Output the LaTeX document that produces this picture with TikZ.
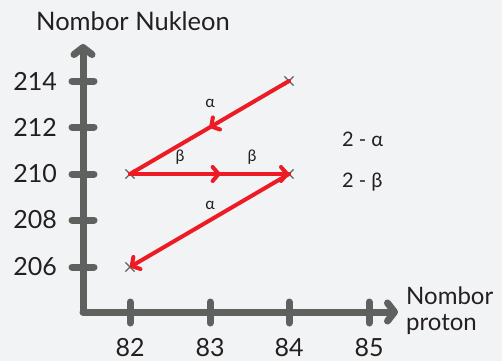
\documentclass[tikz,border=0pt]{standalone}
\usepackage{fontspec}
\setmainfont{Lato}
\usetikzlibrary{arrows.meta,positioning,decorations.markings,shapes.misc}
\definecolor{axisgray}{RGB}{95,97,94}
\definecolor{decayred}{RGB}{237,28,36}
\definecolor{bggray}{RGB}{242,243,245}
\definecolor{inkgray}{RGB}{35,31,32}
\tikzset{
  axisline/.style={draw=axisgray, line width=7pt, line cap=round,
    -{Straight Barb[length=7pt,width=18pt,round]}},
  tickmark/.style={draw=axisgray, line width=7pt, line cap=round},
  pt/.style={cross out, draw=axisgray, line width=1.2pt, minimum size=8pt, inner sep=0pt},
  decay/.style={draw=decayred, line width=4pt, line cap=round},
  headtip/.style={-{Straight Barb[length=6pt,width=14pt,round]}},
  midtip/.style={postaction={decorate}, decoration={markings,
    mark=at position #1 with {\arrow{Straight Barb[length=6pt,width=14pt,round]}}}},
  numlbl/.style={text=inkgray, font=\fontsize{25}{27}\selectfont, inner sep=0pt},
  decaylbl/.style={text=inkgray, font=\fontsize{16}{18}\selectfont, inner sep=0pt},
  sumlbl/.style={text=inkgray, font=\fontsize{20}{22}\selectfont, inner sep=0pt, anchor=west}
}

\begin{document}
\begin{tikzpicture}[x=1pt, y=-1pt]
    \fill[bggray] (0,0) rectangle (502,361);
    \useasboundingbox (0,0) rectangle (502,361);

    % Axes.
    \coordinate (origin) at (83,312);
    \coordinate (ytop) at (83,44);
    \coordinate (xend) at (398,312);
    \draw[axisline] (origin) -- (ytop);
    \draw[axisline] (origin) -- (xend);

    % Nucleon number ticks.
    \foreach \val/\ypos in {214/81, 212/127, 210/174, 208/220, 206/267} {
      \draw[tickmark] (72,\ypos) -- (94,\ypos);
      \node[numlbl, anchor=east] (y\val) at (57,\ypos) {\val};
    }
    % Proton number ticks.
    \foreach \val/\xpos in {82/130, 83/210, 84/289, 85/369} {
      \draw[tickmark] (\xpos,302) -- (\xpos,323);
      \node[numlbl] (x\val) at (\xpos,348) {\val};
    }

    \node[numlbl, font=\fontsize{25.5}{27}\selectfont] (ytitle) at (133,21) {Nombor Nukleon};
    \node[numlbl, anchor=west, align=left, font=\fontsize{24}{26}\selectfont]
      (xtitle) at (406,311) {Nombor\\proton};

    % Nuclides.
    \node[pt] (pa) at (289,81) {};
    \node[pt] (pb) at (130,174) {};
    \node[pt] (pc) at (289,174) {};
    \node[pt] (pd) at (130,267) {};

    % Decay chain.
    \draw[decay, midtip=0.5] (pa.center) -- (pb.center);
    \draw[decay, headtip, midtip=0.57] (pb.center) -- (pc.center);
    \draw[decay, headtip] (pc.center) -- (pd.center);

    \node[decaylbl] (la1) at (210,103) {α};
    \node[decaylbl] (lb1) at (180,157) {β};
    \node[decaylbl] (lb2) at (252,157) {β};
    \node[decaylbl] (la2) at (210,205) {α};

    \node[sumlbl] (sa) at (342,139) {2 - α};
    \node[sumlbl] (sb) at (342,182) {2 - β};
  \end{tikzpicture}
\end{document}
